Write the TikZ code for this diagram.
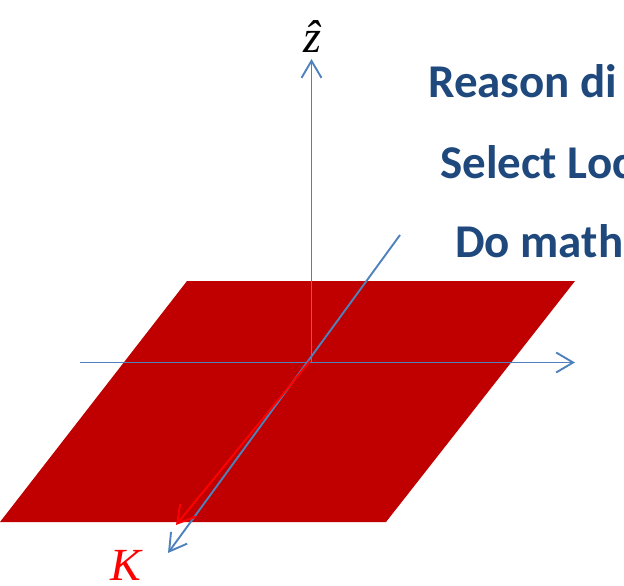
\documentclass[tikz,border=0pt]{standalone}
\usepackage{fontspec}
\setmainfont{Liberation Serif}
\newfontfamily\calib{Carlito}
\usetikzlibrary{arrows.meta}
\definecolor{planered}{HTML}{C00000}
\definecolor{axisblue}{HTML}{4F81BD}
\definecolor{textblue}{HTML}{1F497D}
\definecolor{kred}{HTML}{FF0000}
\begin{document}
\begin{tikzpicture}[x=1pt,y=-1pt,
  axis/.style={draw=axisblue,line width=1.9pt,-{Straight Barb[length=17pt,width=20pt,line width=1.9pt]}},
  kvec/.style={draw=kred,line width=1.9pt,-{Straight Barb[length=17pt,width=20pt,line width=1.9pt]}},
  bullettext/.style={anchor=base west,inner sep=0pt,text=textblue,font=\calib\bfseries\fontsize{47}{56}\selectfont},
  axlabel/.style={inner sep=0pt,font=\fontsize{46}{55}\selectfont}]
\useasboundingbox (0,0) rectangle (624,586);
\clip (0,0) rectangle (624,586);
% plane
\fill[planered] (187,281) -- (575,281) -- (386,522) -- (0,522) -- cycle;
% coordinates
\coordinate (O) at (311.5,362.5);
\coordinate (xs) at (80,362.5);
\coordinate (xe) at (575,362.5);
\coordinate (zt) at (311.5,59);
\coordinate (dt) at (400,235);
\coordinate (db) at (168,553);
\coordinate (ks) at (310,361);
\coordinate (kt) at (176,525);
% axes
\draw[axis] (xs) -- (xe);
\draw[axis] (O) -- (zt);
\draw[axis] (dt) -- (db);
\draw[kvec] (ks) -- (kt);
% labels
\node[axlabel] (zlab) at (312,37) {\itshape\^{z}};
\node[axlabel,text=kred] (klab) at (126,565) {\itshape K};
\node[bullettext] (t1) at (428,98) {Reason di};
\node[bullettext] (t2) at (440,178) {Select Loc};
\node[bullettext] (t3) at (455,257) {Do math};
\end{tikzpicture}
\end{document}
